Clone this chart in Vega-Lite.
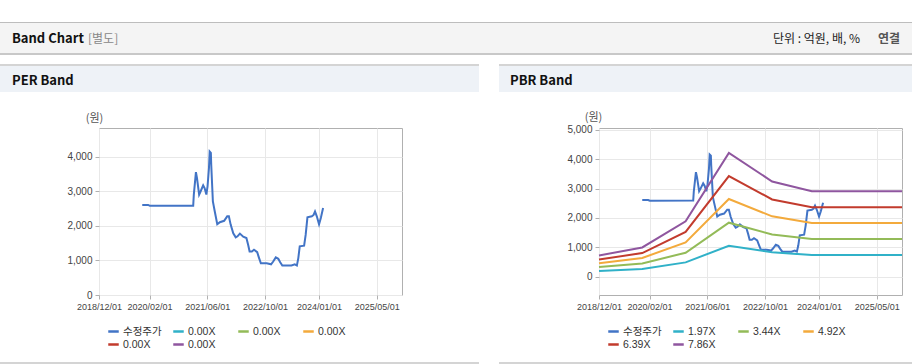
{
"$schema": "https://vega.github.io/schema/vega-lite/v6.json",
"background": "white",
"padding": {"top": 22, "left": 0, "right": 0, "bottom": 0},
"data": {"values": []},
"datasets": {
"price": [
{"date":"2019-12-01","series":"수정주가","value":2610},
{"date":"2020-01-20","series":"수정주가","value":2610},
{"date":"2020-02-03","series":"수정주가","value":2585},
{"date":"2021-02-03","series":"수정주가","value":2590},
{"date":"2021-02-08","series":"수정주가","value":2900},
{"date":"2021-02-26","series":"수정주가","value":3560},
{"date":"2021-03-07","series":"수정주가","value":3390},
{"date":"2021-03-25","series":"수정주가","value":2910},
{"date":"2021-04-06","series":"수정주가","value":3000},
{"date":"2021-04-28","series":"수정주가","value":3180},
{"date":"2021-05-10","series":"수정주가","value":3100},
{"date":"2021-05-25","series":"수정주가","value":2910},
{"date":"2021-06-04","series":"수정주가","value":3150},
{"date":"2021-06-16","series":"수정주가","value":3680},
{"date":"2021-06-22","series":"수정주가","value":4160},
{"date":"2021-07-02","series":"수정주가","value":4120},
{"date":"2021-07-05","series":"수정주가","value":3780},
{"date":"2021-07-19","series":"수정주가","value":2710},
{"date":"2021-08-04","series":"수정주가","value":2420},
{"date":"2021-08-25","series":"수정주가","value":2050},
{"date":"2021-09-16","series":"수정주가","value":2110},
{"date":"2021-10-22","series":"수정주가","value":2150},
{"date":"2021-11-17","series":"수정주가","value":2280},
{"date":"2021-12-01","series":"수정주가","value":2280},
{"date":"2021-12-16","series":"수정주가","value":2040},
{"date":"2022-01-07","series":"수정주가","value":1790},
{"date":"2022-01-28","series":"수정주가","value":1670},
{"date":"2022-02-12","series":"수정주가","value":1700},
{"date":"2022-03-04","series":"수정주가","value":1780},
{"date":"2022-04-01","series":"수정주가","value":1690},
{"date":"2022-04-28","series":"수정주가","value":1650},
{"date":"2022-05-13","series":"수정주가","value":1450},
{"date":"2022-05-25","series":"수정주가","value":1260},
{"date":"2022-06-13","series":"수정주가","value":1260},
{"date":"2022-07-01","series":"수정주가","value":1310},
{"date":"2022-07-28","series":"수정주가","value":1240},
{"date":"2022-08-13","series":"수정주가","value":1070},
{"date":"2022-08-28","series":"수정주가","value":920},
{"date":"2022-10-16","series":"수정주가","value":920},
{"date":"2022-11-22","series":"수정주가","value":890},
{"date":"2022-12-10","series":"수정주가","value":970},
{"date":"2023-01-01","series":"수정주가","value":1090},
{"date":"2023-01-22","series":"수정주가","value":1050},
{"date":"2023-02-07","series":"수정주가","value":950},
{"date":"2023-02-25","series":"수정주가","value":855},
{"date":"2023-05-13","series":"수정주가","value":855},
{"date":"2023-06-10","series":"수정주가","value":890},
{"date":"2023-06-28","series":"수정주가","value":855},
{"date":"2023-07-10","series":"수정주가","value":1070},
{"date":"2023-07-22","series":"수정주가","value":1410},
{"date":"2023-08-28","series":"수정주가","value":1430},
{"date":"2023-09-10","series":"수정주가","value":1740},
{"date":"2023-09-25","series":"수정주가","value":2250},
{"date":"2023-11-01","series":"수정주가","value":2280},
{"date":"2023-11-16","series":"수정주가","value":2320},
{"date":"2023-11-28","series":"수정주가","value":2420},
{"date":"2023-12-13","series":"수정주가","value":2280},
{"date":"2024-01-01","series":"수정주가","value":2050},
{"date":"2024-01-16","series":"수정주가","value":2230},
{"date":"2024-02-04","series":"수정주가","value":2520}
],
"bands": [
{"date":"2018-12-01","series":"1.97X","value":195},
{"date":"2019-12-01","series":"1.97X","value":265},
{"date":"2020-12-01","series":"1.97X","value":490},
{"date":"2021-12-01","series":"1.97X","value":1055},
{"date":"2022-12-01","series":"1.97X","value":835},
{"date":"2023-11-01","series":"1.97X","value":738},
{"date":"2025-12-01","series":"1.97X","value":738},
{"date":"2018-12-01","series":"3.44X","value":335},
{"date":"2019-12-01","series":"3.44X","value":455},
{"date":"2020-12-01","series":"3.44X","value":818},
{"date":"2021-12-01","series":"3.44X","value":1840},
{"date":"2022-12-01","series":"3.44X","value":1440},
{"date":"2023-11-01","series":"3.44X","value":1282},
{"date":"2025-12-01","series":"3.44X","value":1282},
{"date":"2018-12-01","series":"4.92X","value":458},
{"date":"2019-12-01","series":"4.92X","value":640},
{"date":"2020-12-01","series":"4.92X","value":1168},
{"date":"2021-12-01","series":"4.92X","value":2645},
{"date":"2022-12-01","series":"4.92X","value":2055},
{"date":"2023-11-01","series":"4.92X","value":1830},
{"date":"2025-12-01","series":"4.92X","value":1830},
{"date":"2018-12-01","series":"6.39X","value":585},
{"date":"2019-12-01","series":"6.39X","value":805},
{"date":"2020-12-01","series":"6.39X","value":1527},
{"date":"2021-12-01","series":"6.39X","value":3425},
{"date":"2022-12-01","series":"6.39X","value":2630},
{"date":"2023-11-01","series":"6.39X","value":2368},
{"date":"2025-12-01","series":"6.39X","value":2368},
{"date":"2018-12-01","series":"7.86X","value":725},
{"date":"2019-12-01","series":"7.86X","value":998},
{"date":"2020-12-01","series":"7.86X","value":1885},
{"date":"2021-12-01","series":"7.86X","value":4215},
{"date":"2022-12-01","series":"7.86X","value":3240},
{"date":"2023-11-01","series":"7.86X","value":2910},
{"date":"2025-12-01","series":"7.86X","value":2910}
]
},
"columns": 7,
"spacing": 0,
"bounds": "flush",
"align": "each",
"resolve": {"scale": {"color": "independent"}, "legend": {"color": "independent"}},
"concat": [
{"width":99,"height":1,"mark":"point","view":{"fill":"#bdbdbd"}},
{"width":303,"height":1,"mark":"point","view":{"fill":"#bdbdbd"}},
{"width":77,"height":1,"mark":"point","view":{"fill":"#bdbdbd"}},
{"width":20,"height":1,"mark":"point","view":{"fill":"#bdbdbd"}},
{"width":100,"height":1,"mark":"point","view":{"fill":"#bdbdbd"}},
{"width":303,"height":1,"mark":"point","view":{"fill":"#bdbdbd"}},
{"width":10,"height":1,"mark":"point","view":{"fill":"#bdbdbd"}},

{"width":99,"height":30,"mark":"point","view":{"fill":"#f4f4f4"},"title":{"text":"Band Chart","offset":-23,"dx":12}},
{"width":303,"height":30,"mark":"point","view":{"fill":"#f4f4f4"},"title":{"text":"[별도]","offset":-23,"dx":-11,"fontWeight":"normal","fontSize":12,"color":"#888888"}},
{"width":77,"height":30,"mark":"point","view":{"fill":"#f4f4f4"}},
{"width":20,"height":30,"mark":"point","view":{"fill":"#f4f4f4"}},
{"width":100,"height":30,"mark":"point","view":{"fill":"#f4f4f4"}},
{"width":303,"height":30,"mark":"point","view":{"fill":"#f4f4f4"},"title":{"text":"단위 : 억원, 배, %","anchor":"end","offset":-23,"dx":-42,"fontWeight":"normal","fontSize":12,"color":"#222222"}},
{"width":10,"height":30,"mark":"point","view":{"fill":"#f4f4f4"},"title":{"text":"연결","anchor":"middle","offset":-23,"dx":-18,"fontSize":12,"color":"#555555"}},

{"width":99,"height":2,"mark":"point","view":{"fill":"#c8c8c8"}},
{"width":303,"height":2,"mark":"point","view":{"fill":"#c8c8c8"}},
{"width":77,"height":2,"mark":"point","view":{"fill":"#c8c8c8"}},
{"width":20,"height":2,"mark":"point","view":{"fill":"#c8c8c8"}},
{"width":100,"height":2,"mark":"point","view":{"fill":"#c8c8c8"}},
{"width":303,"height":2,"mark":"point","view":{"fill":"#c8c8c8"}},
{"width":10,"height":2,"mark":"point","view":{"fill":"#c8c8c8"}},

{"width":99,"height":9,"mark":"point"},
{"width":303,"height":9,"mark":"point"},
{"width":77,"height":9,"mark":"point"},
{"width":20,"height":9,"mark":"point"},
{"width":100,"height":9,"mark":"point"},
{"width":303,"height":9,"mark":"point"},
{"width":10,"height":9,"mark":"point"},

{"width":99,"height":2,"mark":"point","view":{"fill":"#d4d4d4"}},
{"width":303,"height":2,"mark":"point","view":{"fill":"#d4d4d4"}},
{"width":77,"height":2,"mark":"point","view":{"fill":"#d4d4d4"}},
{"width":20,"height":2,"mark":"point"},
{"width":100,"height":2,"mark":"point","view":{"fill":"#d4d4d4"}},
{"width":303,"height":2,"mark":"point","view":{"fill":"#d4d4d4"}},
{"width":10,"height":2,"mark":"point","view":{"fill":"#d4d4d4"}},

{"width":99,"height":26,"mark":"point","view":{"fill":"#eef2f7"},"title":{"text":"PER Band","offset":-22,"dx":12}},
{"width":303,"height":26,"mark":"point","view":{"fill":"#eef2f7"}},
{"width":77,"height":26,"mark":"point","view":{"fill":"#eef2f7"}},
{"width":20,"height":26,"mark":"point"},
{"width":100,"height":26,"mark":"point","view":{"fill":"#eef2f7"},"title":{"text":"PBR Band","offset":-22,"dx":11}},
{"width":303,"height":26,"mark":"point","view":{"fill":"#eef2f7"}},
{"width":10,"height":26,"mark":"point","view":{"fill":"#eef2f7"}},

{"width":99,"height":36,"mark":"point"},
{"width":303,"height":36,"mark":"point"},
{"width":77,"height":36,"mark":"point"},
{"width":20,"height":36,"mark":"point"},
{"width":100,"height":36,"mark":"point"},
{"width":303,"height":36,"mark":"point"},
{"width":10,"height":36,"mark":"point"},

{"width":99,"height":167,"mark":"point"},
{
"width":303,"height":167,
"view":{"fill":"white","stroke":"#b0b0b0"},
"data":{"name":"price"},
"mark":{"type":"line","strokeWidth":2},
"encoding":{
"x":{"field":"date","type":"temporal",
"scale":{"type":"utc","domain":[{"year":2018,"month":12,"date":1,"utc":true},{"year":2025,"month":12,"date":1,"utc":true}]},
"axis":{"title":null,"labelExpr":"utcFormat(datum.value, '%Y/%m/%d')","values":[{"year":2018,"month":12,"date":1,"utc":true},{"year":2020,"month":2,"date":1,"utc":true},{"year":2021,"month":6,"date":1,"utc":true},{"year":2022,"month":10,"date":1,"utc":true},{"year":2024,"month":1,"date":1,"utc":true},{"year":2025,"month":5,"date":1,"utc":true}]}},
"y":{"field":"value","type":"quantitative",
"scale":{"domain":[0,4840],"nice":false,"zero":false},
"axis":{"values":[0,1000,2000,3000,4000],"format":",d","title":"(원)","titleAngle":0,"titleAlign":"center","titleBaseline":"middle","titleX":-5,"titleY":-10,"titleFontSize":11}},
"color":{"field":"series","type":"nominal",
"scale":{"domain":["수정주가","b1","b2","b3","b4","b5"],"range":["#4274c6","#30b1c8","#93bb58","#f3aa3c","#c23b2d","#8f569f"]},
"legend":{"orient":"none","legendX":8,"legendY":197,"direction":"horizontal","columns":4,"title":null,"symbolType":"stroke","symbolSize":110,"symbolStrokeWidth":2.5,"labelFontSize":10.5,"labelColor":"#333333","columnPadding":6,"rowPadding":1,"gridAlign":"all","labelOffset":3,"labelExpr":"datum.label == '수정주가' ? datum.label : '0.00X'"}}
}
},
{"width":77,"height":167,"mark":"point"},
{"width":20,"height":167,"mark":"point"},
{"width":100,"height":167,"mark":"point"},
{
"width":303,"height":167,
"view":{"fill":"white","stroke":"#b0b0b0"},
"encoding":{
"x":{"field":"date","type":"temporal",
"scale":{"type":"utc","domain":[{"year":2018,"month":12,"date":1,"utc":true},{"year":2025,"month":12,"date":1,"utc":true}]},
"axis":{"title":null,"labelExpr":"utcFormat(datum.value, '%Y/%m/%d')","values":[{"year":2018,"month":12,"date":1,"utc":true},{"year":2020,"month":2,"date":1,"utc":true},{"year":2021,"month":6,"date":1,"utc":true},{"year":2022,"month":10,"date":1,"utc":true},{"year":2024,"month":1,"date":1,"utc":true},{"year":2025,"month":5,"date":1,"utc":true}]}},
"y":{"field":"value","type":"quantitative",
"scale":{"domain":[-620,5060],"nice":false,"zero":false},
"axis":{"values":[0,1000,2000,3000,4000,5000],"format":",d","title":"(원)","titleAngle":0,"titleAlign":"center","titleBaseline":"middle","titleX":-6,"titleY":-11,"titleFontSize":11}},
"color":{"field":"series","type":"nominal",
"scale":{"domain":["수정주가","1.97X","3.44X","4.92X","6.39X","7.86X"],"range":["#4274c6","#30b1c8","#93bb58","#f3aa3c","#c23b2d","#8f569f"]},
"legend":{"orient":"none","legendX":8,"legendY":197,"direction":"horizontal","columns":4,"title":null,"symbolType":"stroke","symbolSize":110,"symbolStrokeWidth":2.5,"labelFontSize":10.5,"labelColor":"#333333","columnPadding":6,"rowPadding":1,"gridAlign":"all","labelOffset":3}}
},
"layer":[
{"data":{"name":"price"},"mark":{"type":"line","strokeWidth":2}},
{"data":{"name":"bands"},"mark":{"type":"line","strokeWidth":2}}
]
},
{"width":10,"height":167,"mark":"point"},

{"width":99,"height":67,"mark":"point"},
{"width":303,"height":67,"mark":"point"},
{"width":77,"height":67,"mark":"point"},
{"width":20,"height":67,"mark":"point"},
{"width":100,"height":67,"mark":"point"},
{"width":303,"height":67,"mark":"point"},
{"width":10,"height":67,"mark":"point"},

{"width":99,"height":2,"mark":"point","view":{"fill":"#d4d4d4"}},
{"width":303,"height":2,"mark":"point","view":{"fill":"#d4d4d4"}},
{"width":77,"height":2,"mark":"point","view":{"fill":"#d4d4d4"}},
{"width":20,"height":2,"mark":"point"},
{"width":100,"height":2,"mark":"point","view":{"fill":"#d4d4d4"}},
{"width":303,"height":2,"mark":"point","view":{"fill":"#d4d4d4"}},
{"width":10,"height":2,"mark":"point","view":{"fill":"#d4d4d4"}}
],
"config": {
"font": "Liberation Sans, Noto Sans CJK KR",
"view": {"stroke": null},
"title": {"anchor":"start","frame":"group","orient":"top","baseline":"middle","font":"Noto Sans CJK KR","fontWeight":"bold","fontSize":13,"color":"#111111"},
"axis": {"labelFont":"Liberation Sans, Noto Sans CJK KR","labelColor":"#444444","tickColor":"#b0b0b0","tickSize":4,"gridColor":"#e8e8e8","domain":false,"titleFont":"Noto Sans CJK KR","titleFontWeight":"normal","titleColor":"#555555"},
"axisX": {"labelFontSize":9,"labelPadding":3,"labelOverlap":false,"labelFlush":false},
"axisY": {"labelFontSize":10,"labelPadding":3},
"legend": {"labelFont":"Liberation Sans, Noto Sans CJK KR"}
}
}
